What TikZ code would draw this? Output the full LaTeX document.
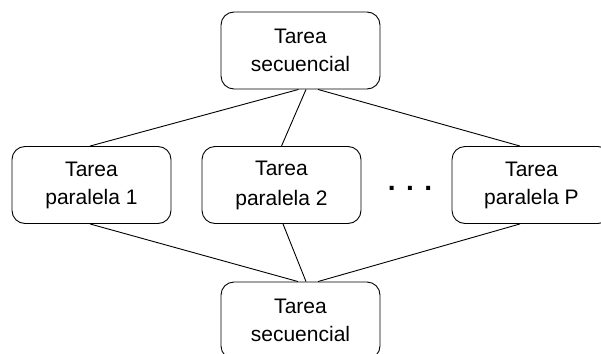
\documentclass[tikz,border=0pt]{standalone}
\usepackage{fontspec}
\setmainfont{Liberation Sans}
\tikzset{%
    caja/.style={draw, rounded corners=13pt, line width=0.9pt, minimum width=159pt,
        minimum height=77pt, inner sep=0pt, align=center,
        font=\fontsize{21}{28}\selectfont},
    lin/.style={line width=0.9pt},
    pts/.style={inner sep=0pt, font=\fontsize{28}{30}\selectfont\bfseries},
}
\begin{document}
\begin{tikzpicture}[x=1pt,y=-1pt]
    \useasboundingbox (0,0) rectangle (601,353);
    \clip (0,0) rectangle (601,353);
    \node [caja] (sup) at (300.5,50.5) {Tarea\\secuencial};
    \node [caja] (par1) at (91.5,185) {Tarea\\paralela 1};
    \node [caja] (par2) at (281.5,185) {Tarea\\[2pt]paralela 2};
    \node [caja] (parP) at (531.5,185) {Tarea\\paralela P};
    \node [caja] (inf) at (300.5,320.5) {Tarea\\secuencial};
    \node [pts] (puntos) at (410,188) {. . .};
    % de la tarea secuencial a las paralelas
    \draw [lin]([xshift=-2pt]sup.south) -- ([xshift=-1.5pt]par1.north);
    \draw [lin]([xshift=5.5pt]sup.south) -- (par2.north);
    \draw [lin]([xshift=17.5pt]sup.south) -- ([xshift=-11.5pt]parP.north);
    % de las paralelas a la tarea secuencial
    \draw [lin]([xshift=-1.5pt]par1.south) -- ([xshift=-2.5pt]inf.north);
    \draw [lin]([xshift=1.5pt]par2.south) -- ([xshift=5.5pt]inf.north);
    \draw [lin]([xshift=-11.5pt]parP.south) -- ([xshift=17.5pt]inf.north);
\end{tikzpicture}
\end{document}
